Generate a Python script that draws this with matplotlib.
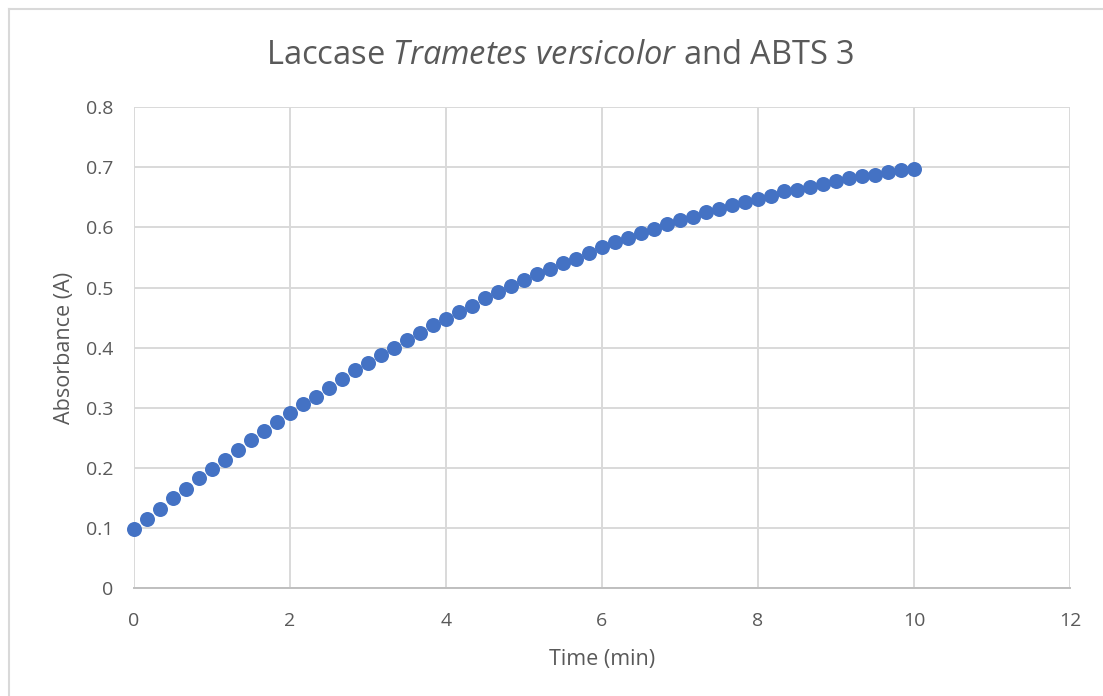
import matplotlib.pyplot as plt
import matplotlib as mpb
from matplotlib.lines import Line2D

# time in minutes (10 s readings) and absorbance
time_min = [i / 6 for i in range(61)]
absorbance = [0.098, 0.115, 0.132, 0.150, 0.165, 0.183, 0.198, 0.213, 0.230, 0.247,
              0.262, 0.277, 0.292, 0.307, 0.318, 0.333, 0.348, 0.362, 0.375, 0.387,
              0.400, 0.412, 0.425, 0.437, 0.447, 0.460, 0.470, 0.482, 0.492, 0.502,
              0.512, 0.522, 0.530, 0.540, 0.548, 0.558, 0.568, 0.575, 0.583, 0.590,
              0.597, 0.605, 0.612, 0.618, 0.625, 0.630, 0.637, 0.642, 0.648, 0.653,
              0.660, 0.663, 0.668, 0.673, 0.677, 0.682, 0.685, 0.687, 0.692, 0.695,
              0.697]
x_ticks = [0, 2, 4, 6, 8, 10, 12]
y_ticks = [0, 0.1, 0.2, 0.3, 0.4, 0.5, 0.6, 0.7, 0.8]
y_ticklabels = ['0', '0.1', '0.2', '0.3', '0.4', '0.5', '0.6', '0.7', '0.8']

txt = '#595959'
mpb.rcParams.update({'font.family': ['Open Sans', 'DejaVu Sans'],
                     'mathtext.fontset': 'custom',
                     'mathtext.rm': 'Open Sans',
                     'mathtext.it': 'Open Sans:italic'})

fig = plt.figure(figsize=[11.03, 6.96], dpi=100)
ax = fig.add_axes([0.1215, 0.155, 0.8485, 0.691])

ax.plot(time_min, absorbance, 'o', color='#4472C4', markersize=10.8,
        markeredgewidth=0, zorder=3, clip_on=False)

ax.set_xlim(0, 12)
ax.set_ylim(0, 0.8)
ax.set_xticks(x_ticks)
ax.set_yticks(y_ticks)
ax.set_yticklabels(y_ticklabels)
ax.grid(True, color='#D9D9D9', linewidth=1.4)
ax.set_axisbelow(True)
for s in ['top', 'right', 'left']:
    ax.spines[s].set_visible(False)
ax.spines['bottom'].set_color('#BFBFBF')
ax.spines['bottom'].set_linewidth(1.4)
ax.tick_params(length=0, labelsize=14, colors=txt)
ax.tick_params(axis='x', pad=17)
ax.tick_params(axis='y', pad=15)

ax.set_xlabel('Time (min)', fontsize=15.5, color=txt, labelpad=14)
ax.set_ylabel('Absorbance (A)', fontsize=15.5, color=txt, labelpad=8)
fig.text(0.508, 0.92, r'Laccase $\mathit{Trametes\ versicolor}$ and ABTS 3',
         fontsize=23.5, color=txt, ha='center', va='center')

# chart frame (only left and top edges are in view)
fig.add_artist(Line2D([0.0085, 0.0085], [0, 0.987], color='#D9D9D9', lw=1.5,
                      transform=fig.transFigure))
fig.add_artist(Line2D([0.0085, 1], [0.987, 0.987], color='#D9D9D9', lw=1.5,
                      transform=fig.transFigure))

plt.savefig('out.png', dpi=100)
